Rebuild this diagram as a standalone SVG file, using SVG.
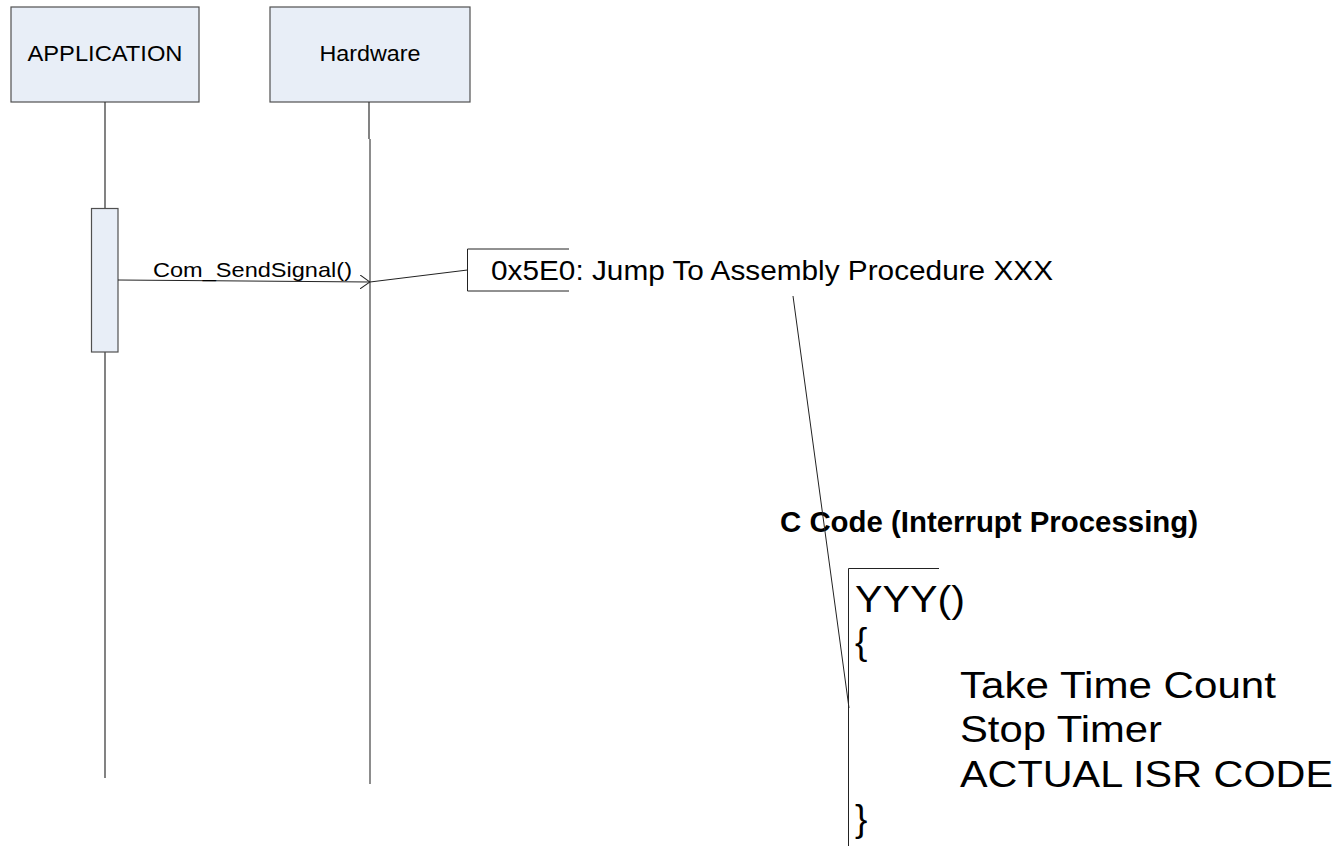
<svg xmlns="http://www.w3.org/2000/svg" width="1339" height="846" viewBox="0 0 1339 846">
<style>
  .box { fill: #E8EEF7; stroke: #505050; stroke-width: 1.2; }
  .life { stroke: #303030; stroke-width: 1.2; fill: none; }
  .lifeg { stroke: #808080; stroke-width: 1.8; fill: none; }
  .ln { stroke: #222; stroke-width: 1; fill: none; }
  .t { font-family: "Liberation Sans", Arial, sans-serif; fill: #000; }
</style>
<defs>
  <marker id="open" viewBox="0 0 10 14" refX="10" refY="7" markerWidth="10" markerHeight="14" markerUnits="userSpaceOnUse" orient="auto">
    <path d="M0,0 L10,7 L0,14" fill="none" stroke="#222" stroke-width="1"/>
  </marker>
</defs>
<rect width="1339" height="846" fill="#fff"/>

<g id="application">
  <rect class="box" x="11" y="7" width="188" height="95"/>
  <text class="t" x="105" y="61" font-size="21.5" text-anchor="middle" textLength="155" lengthAdjust="spacingAndGlyphs">APPLICATION</text>
  <line class="life" x1="105" y1="102" x2="105" y2="778"/>
  <rect class="box" x="91.5" y="208.5" width="26.5" height="143.5"/>
</g>

<g id="hardware">
  <rect class="box" x="270" y="7" width="200" height="95"/>
  <text class="t" x="370" y="61" font-size="21.5" text-anchor="middle" textLength="101" lengthAdjust="spacingAndGlyphs">Hardware</text>
  <line class="life" x1="369" y1="102" x2="369" y2="139"/>
  <line class="lifeg" x1="370" y1="139" x2="370" y2="784"/>
</g>

<g id="jump">
  <path class="ln" d="M569,249 H467.5 V291 H569"/>
  <text class="t" x="491" y="280" font-size="27" textLength="562" lengthAdjust="spacingAndGlyphs">0x5E0: Jump To Assembly Procedure XXX</text>
</g>

<g id="ccode-title">
  <text class="t" x="780" y="532" font-size="29" font-weight="bold" textLength="418" lengthAdjust="spacingAndGlyphs">C Code (Interrupt Processing)</text>
</g>

<g id="ccode">
  <path class="ln" d="M939,568.5 H848.5 V846"/>
  <text class="t" x="855" y="612" font-size="37" textLength="110" lengthAdjust="spacingAndGlyphs">YYY()</text>
  <text class="t" x="855" y="654" font-size="37">{</text>
  <text class="t" x="960" y="698" font-size="37" textLength="316" lengthAdjust="spacingAndGlyphs">Take Time Count</text>
  <text class="t" x="960" y="742" font-size="37" textLength="202" lengthAdjust="spacingAndGlyphs">Stop Timer</text>
  <text class="t" x="960" y="787" font-size="37" textLength="373" lengthAdjust="spacingAndGlyphs">ACTUAL ISR CODE</text>
  <text class="t" x="855" y="831" font-size="37">}</text>
</g>

<g id="connectors">
  <line class="ln" x1="118" y1="280" x2="370" y2="282" marker-end="url(#open)"/>
  <text class="t" x="153" y="277" font-size="21" textLength="199" lengthAdjust="spacingAndGlyphs">Com_SendSignal()</text>
  <line class="ln" x1="370" y1="282" x2="467.5" y2="270"/>
  <line class="ln" x1="793" y1="296" x2="849" y2="708"/>
</g>
</svg>
